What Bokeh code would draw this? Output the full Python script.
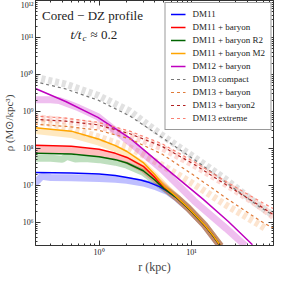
import numpy as np
from bokeh.plotting import figure
from bokeh.models import FixedTicker, LogAxis, CustomJSTickFormatter, Label
from bokeh.embed import file_html
from bokeh.resources import INLINE

# ---------------- data (log10 of density in Msun/kpc^3, r in kpc) ----------------
# analytic profiles (solid lines)
r_dm11 = [0.2, 0.5, 1.0, 1.5, 2.0, 2.8, 3.5, 4.5, 5.5, 7.0, 9.2, 11.5, 13.8, 17.0, 20.6]
lg_dm11 = [7.35, 7.34, 7.31, 7.27, 7.22, 7.15, 7.08, 6.97, 6.84, 6.66, 6.39, 6.14, 5.93, 5.65, 5.36]

r_dm11b = [0.2, 0.5, 1.0, 1.5, 2.0, 3.0, 4.0, 5.0, 7.0, 9.2, 11.5, 13.8, 17.0, 20.6]
lg_dm11b = [8.09, 8.06, 7.98, 7.87, 7.76, 7.52, 7.22, 6.94, 6.66, 6.39, 6.14, 5.93, 5.65, 5.36]
lg_dm11r2 = [7.87, 7.85, 7.78, 7.70, 7.61, 7.40, 7.15, 6.92, 6.66, 6.39, 6.14, 5.93, 5.65, 5.36]
lg_dm11m2 = [8.56, 8.47, 8.25, 8.08, 7.92, 7.62, 7.30, 7.00, 6.68, 6.40, 6.15, 5.94, 5.66, 5.37]

r_dm12 = [0.2, 0.435, 0.97, 2.15, 4.79, 13.2, 25.0, 45.6]
lg_dm12 = [9.63, 9.27, 8.84, 8.28, 7.55, 6.64, 6.03, 5.40]

r_dm13 = [0.2, 0.435, 0.97, 2.15, 4.79, 10.7, 23.7, 52.7, 76.0]
lg_dm13c = [9.81, 9.61, 9.31, 8.88, 8.30, 7.70, 7.08, 6.45, 6.20]
lg_dm13b = [8.66, 8.60, 8.50, 8.26, 7.85, 7.27, 6.66, 6.08, 5.85]
lg_dm13b2 = [8.79, 8.74, 8.64, 8.40, 8.06, 7.57, 7.02, 6.48, 6.22]
lg_dm13x = [8.88, 8.82, 8.71, 8.47, 8.13, 7.64, 7.10, 6.60, 6.38]

# simulation profiles (thick translucent bands)
r_s_dm11 = [0.2, 0.24, 0.3, 0.5, 1.0, 1.5, 2.0, 3.0, 4.0, 5.5, 7.0, 9.2, 13.8, 20.6]
lg_s_dm11 = [7.05, 7.25, 7.22, 7.21, 7.19, 7.17, 7.14, 7.07, 6.98, 6.84, 6.65, 6.39, 5.93, 5.36]

r_s_r2 = [0.2, 0.3, 0.4, 0.45, 0.55, 0.7, 1.0, 1.5, 2.0, 3.0, 4.0, 5.5, 7.0, 9.2, 13.8, 20.6]
lg_s_r2 = [7.74, 7.74, 7.71, 7.79, 7.72, 7.73, 7.70, 7.63, 7.55, 7.36, 7.12, 6.86, 6.66, 6.39, 5.93, 5.36]

r_s_b = [0.2, 0.5, 1.0, 1.5, 2.0, 3.0, 4.0, 5.5, 7.0, 9.2, 13.8, 20.6]
lg_s_b = [7.98, 7.95, 7.88, 7.78, 7.68, 7.45, 7.18, 6.88, 6.66, 6.39, 5.93, 5.36]
lg_s_m2 = [8.49, 8.38, 8.17, 8.00, 7.85, 7.56, 7.26, 6.90, 6.67, 6.40, 5.94, 5.37]

r_s_dm12 = [0.2, 0.3, 0.37, 0.45, 0.6, 0.97, 2.15, 4.79, 10.7, 23.7, 38.0]
lg_s_dm12 = [9.32, 9.32, 9.30, 9.22, 9.10, 8.86, 8.17, 7.44, 6.58, 5.84, 5.38]

r_s_dm13c = [0.2, 0.435, 0.97, 2.15, 4.79, 10.7, 23.7, 52.7, 76.0]
lg_s_dm13c = [9.93, 9.74, 9.44, 9.01, 8.36, 7.76, 7.16, 6.47, 6.20]

r_s_dm13x = [0.2, 0.435, 0.97, 2.15, 4.79, 10.7, 23.7, 52.7, 78.0]
lg_s_dm13x = [8.84, 8.75, 8.62, 8.36, 8.02, 7.55, 7.03, 6.47, 6.15]

r_s_dm13b = [0.2, 0.435, 0.97, 2.15, 4.79, 10.7, 23.7, 52.7, 62.0]
lg_s_dm13b = [8.75, 8.58, 8.32, 8.02, 7.55, 7.03, 6.47, 5.96, 5.85]

x_major = [1, 10]
y_major = [1e6, 1e7, 1e8, 1e9, 1e10, 1e11, 1e12]

def pw(a):
    return [10 ** v for v in a]

SERIF = "Liberation Serif"

p = figure(width=274, height=276, x_axis_type="log", y_axis_type="log",
           x_range=(0.205, 77), y_range=(10 ** 5.38, 1e12),
           toolbar_location=None, output_backend="svg",
           min_border_left=30, min_border_right=1, min_border_top=0, min_border_bottom=18)
p.background_fill_color = "white"
p.border_fill_color = "white"
p.grid.visible = False
p.outline_line_color = "#333333"
p.outline_line_width = 1

# bands
BW = 7
BA = 0.25
p.line(r_s_dm13c, pw(lg_s_dm13c), line_width=BW, color="#aaaaaa", alpha=0.35, line_dash="4 3")
p.line(r_s_dm13x, pw(lg_s_dm13x), line_width=BW, color="#fa8072", alpha=0.3, line_dash="4 3")
p.line(r_s_dm13b, pw(lg_s_dm13b), line_width=BW, color="#f4a460", alpha=0.3, line_dash="4 3")
p.line(r_s_dm12, pw(lg_s_dm12), line_width=BW, color="#bf00bf", alpha=BA)
p.line(r_s_dm11, pw(lg_s_dm11), line_width=BW, color="#0000ff", alpha=BA)
p.line(r_s_r2, pw(lg_s_r2), line_width=BW, color="#008000", alpha=BA)
p.line(r_s_b, pw(lg_s_b), line_width=BW, color="#ff0000", alpha=BA)
p.line(r_s_b, pw(lg_s_m2), line_width=BW, color="#ffa500", alpha=BA)

# analytic lines
LW = 1.5
p.line(r_dm11, pw(lg_dm11), line_width=LW, color="#0000ff", legend_label="DM11")
p.line(r_dm11b, pw(lg_dm11b), line_width=LW, color="#ff0000", legend_label="DM11 + baryon")
p.line(r_dm11b, pw(lg_dm11r2), line_width=LW, color="#006400", legend_label="DM11 + baryon R2")
p.line(r_dm11b, pw(lg_dm11m2), line_width=LW, color="#ffa500", legend_label="DM11 + baryon M2")
p.line(r_dm12, pw(lg_dm12), line_width=LW, color="#bf00bf", legend_label="DM12 + baryon")
DW = 1.2
p.line(r_dm13, pw(lg_dm13c), line_width=DW, color="#777777", line_dash="3 3", legend_label="DM13 compact")
p.line(r_dm13, pw(lg_dm13b), line_width=DW, color="#e07b39", line_dash="3 3", legend_label="DM13 + baryon")
p.line(r_dm13, pw(lg_dm13b2), line_width=DW, color="#b22222", line_dash="3 3", legend_label="DM13 + baryon2")
p.line(r_dm13, pw(lg_dm13x), line_width=DW, color="#fa8072", line_dash="3 3", legend_label="DM13 extreme")

# ticks
def minor_list(d0, d1):
    return [k * 10.0 ** d for d in range(d0, d1) for k in range(2, 10)]

fmt_code = """
const sup = {"0":"\u2070","1":"\u00b9","2":"\u00b2","3":"\u00b3","4":"\u2074","5":"\u2075","6":"\u2076","7":"\u2077","8":"\u2078","9":"\u2079","-":"\u207b"};
const e = Math.round(Math.log10(tick));
return "10" + String(e).split("").map(c => sup[c]).join("");
"""
xt = FixedTicker(ticks=x_major, minor_ticks=minor_list(-1, 2))
yt = FixedTicker(ticks=y_major, minor_ticks=minor_list(5, 12))

def style_axis(ax, ticker, labels=True):
    ax.ticker = ticker
    ax.major_tick_in = 5
    ax.major_tick_out = 0
    ax.minor_tick_in = 2
    ax.minor_tick_out = 0
    ax.axis_line_color = "#333333"
    ax.major_tick_line_color = "#333333"
    ax.minor_tick_line_color = "#333333"
    if labels:
        ax.formatter = CustomJSTickFormatter(code=fmt_code)
        ax.major_label_text_font = SERIF
        ax.major_label_text_font_size = "8px"
        ax.major_label_text_color = "#222222"
        ax.major_label_standoff = 2
    else:
        ax.formatter = CustomJSTickFormatter(code="return '';")
        ax.major_label_standoff = 0
        ax.major_label_text_font_size = "1px"

style_axis(p.xaxis[0], xt)
style_axis(p.yaxis[0], yt)
p.yaxis[0].axis_label = "\u03c1 (M\u2299/kpc\u00b3)"
p.yaxis[0].axis_label_text_font = SERIF
p.yaxis[0].axis_label_text_font_style = "normal"
p.yaxis[0].axis_label_text_font_size = "11px"
p.yaxis[0].axis_label_standoff = 2

p.xaxis[0].axis_label = "r (kpc)"
p.xaxis[0].axis_label_text_font = SERIF
p.xaxis[0].axis_label_text_font_style = "normal"
p.xaxis[0].axis_label_text_font_size = "12px"
p.xaxis[0].axis_label_standoff = 0

top = LogAxis()
right = LogAxis()
style_axis(top, FixedTicker(ticks=x_major, minor_ticks=minor_list(-1, 2)), labels=False)
style_axis(right, FixedTicker(ticks=y_major, minor_ticks=minor_list(5, 12)), labels=False)
p.add_layout(top, "above")
p.add_layout(right, "right")

# annotations (screen units relative to the plot frame)
p.add_layout(Label(x=57, y=230, x_units="screen", y_units="screen", text="Cored \u2212 DZ profile",
                   text_font=SERIF, text_font_size="13px", text_align="center",
                   text_baseline="alphabetic", text_color="#222222"))
p.add_layout(Label(x=35, y=211, x_units="screen", y_units="screen", text="t/t",
                   text_font=SERIF, text_font_style="italic", text_font_size="13px",
                   text_align="left", text_baseline="alphabetic", text_color="#222222"))
p.add_layout(Label(x=47, y=208, x_units="screen", y_units="screen", text="c",
                   text_font=SERIF, text_font_style="italic", text_font_size="9px",
                   text_align="left", text_baseline="alphabetic", text_color="#222222"))
p.add_layout(Label(x=55, y=211, x_units="screen", y_units="screen", text="\u2248 0.2",
                   text_font=SERIF, text_font_size="13px",
                   text_align="left", text_baseline="alphabetic", text_color="#222222"))

lg = p.legend[0]
lg.location = "top_right"
lg.margin = 2
lg.padding = 5
lg.spacing = 1
lg.glyph_width = 15
lg.glyph_height = 12
lg.label_height = 12
lg.label_standoff = 7
lg.label_text_font = SERIF
lg.label_text_font_size = "9px"
lg.label_text_color = "#222222"
lg.border_line_color = "#333333"
lg.border_line_width = 1
lg.background_fill_alpha = 1.0

open("out.html", "w").write(file_html(p, INLINE))
